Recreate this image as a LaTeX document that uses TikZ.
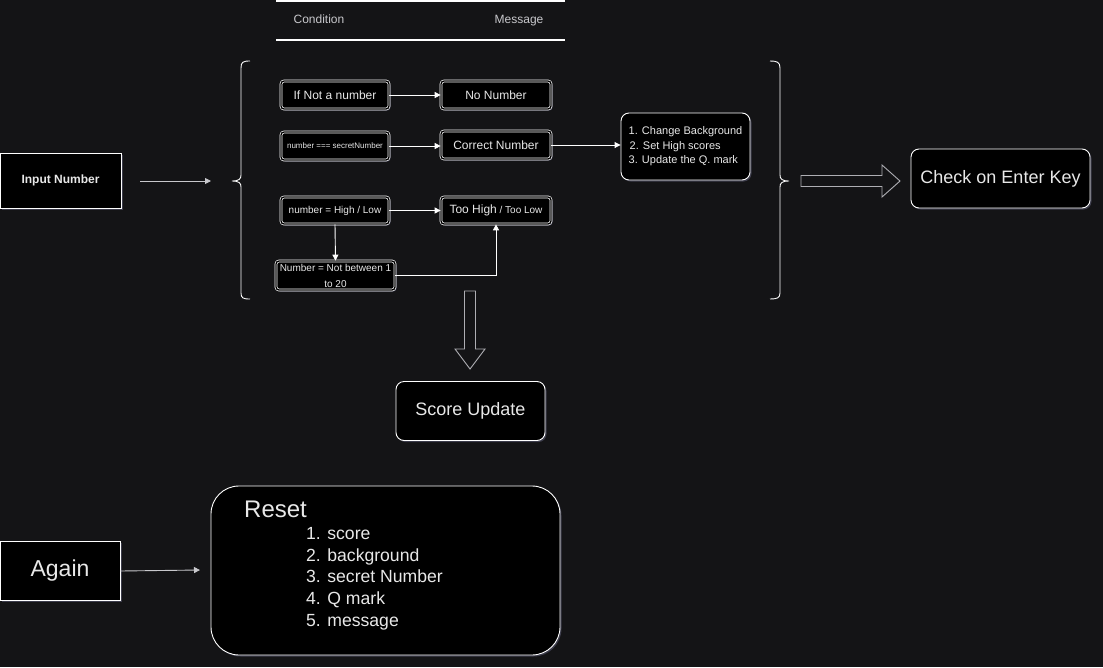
\documentclass[tikz,border=0pt]{standalone}
\usepackage{fontspec}
\setmainfont{Liberation Sans}
\usetikzlibrary{arrows.meta,shadows,calc}
\definecolor{bg}{RGB}{20,20,22}
\definecolor{txt}{RGB}{232,232,232}
\definecolor{lbl}{RGB}{200,200,204}
\definecolor{glow}{RGB}{110,110,140}
\definecolor{barrow}{RGB}{175,175,180}
\newcommand{\fs}[2]{\fontsize{#1}{#2}\selectfont}
\begin{document}
\begin{tikzpicture}[x=1pt,y=-1pt,
  box/.style={draw=white, fill=black, text=txt, inner sep=0pt, align=center, line width=0.9pt,
    drop shadow={shadow xshift=1.5pt, shadow yshift=-1.5pt, fill=glow, opacity=0.45}},
  rbox/.style={box, rounded corners=8pt},
  dbox/.style={box, rounded corners=3pt, double=black, double distance=1.3pt, line width=0.7pt},
  arr/.style={draw=white, line width=0.9pt, -{Triangle[width=6pt,length=6pt]}},
  brace/.style={draw=white, line width=0.9pt},
  blockarrow/.style={draw=barrow, fill=bg, line width=0.9pt, line join=miter},
  hdr/.style={text=lbl, font=\fs{12}{14}, inner sep=0pt, anchor=base}
]
\fill[bg] (0,0) rectangle (1103,667);
\useasboundingbox (0,0) rectangle (1103,667);

% header
\draw[white, line width=1.2pt] (276,1) -- (565,1);
\draw[white, line width=1.2pt] (276,40) -- (565,40);
\node[hdr] (cond) at (319,23.5) {Condition};
\node[hdr] (msg) at (519,23.5) {Message};

% braces
\draw[brace] (250,61) .. controls (243,61) and (241,62) .. (241,68) -- (241,175)
  .. controls (241,179) and (239,181) .. (232,181)
  .. controls (239,181) and (241,183) .. (241,187) -- (241,293)
  .. controls (241,298) and (243,299) .. (250,299);
\draw[brace] (770,61) .. controls (777,61) and (780,62) .. (780,68) -- (780,175)
  .. controls (780,179) and (782,181) .. (789,181)
  .. controls (782,181) and (780,183) .. (780,187) -- (780,293)
  .. controls (780,298) and (777,299) .. (770,299);

% left input
\node[box, minimum width=121pt, minimum height=55pt, font=\bfseries\fs{12}{14}] (inp) at (60.5,180.5) {Input Number};
\coordinate (inpA) at (140,181);
\coordinate (inpB) at (211,181);
\draw[arr, draw=lbl] (inpA) -- (inpB);

% conditions
\node[dbox, minimum width=108pt, minimum height=28pt, font=\fs{12}{14}] (nan) at (335,95) {If Not a number};
\node[dbox, minimum width=110pt, minimum height=28pt, font=\fs{12}{14}] (nonum) at (496,95) {No Number};
\node[dbox, minimum width=108pt, minimum height=28pt, font=\fs{8}{9}] (eq) at (335,146) {number === secretNumber};
\node[dbox, minimum width=110pt, minimum height=28pt, font=\fs{12}{14}] (corr) at (496,145) {Correct Number};
\node[dbox, minimum width=108pt, minimum height=27pt, font=\fs{10}{12}] (hl) at (335,210.5) {number = High / Low};
\node[dbox, minimum width=110pt, minimum height=27pt, font=\fs{10}{12}] (th) at (496,210.5) {{\fs{12}{14}Too High} / Too Low};
\node[dbox, minimum width=119pt, minimum height=29pt, font=\fs{10}{16}] (nb) at (335.5,275.5) {Number = Not between 1\\to 20};

\draw[arr] (nan) -- (nonum);
\draw[arr] (eq.east) -- (corr.west |- eq.east);
\draw[arr] (hl) -- (th);
\draw[arr] (hl.south) -- (nb.north);
\draw[arr] (nb.east) -| (th.south);

% list box
\node[rbox, minimum width=129pt, minimum height=67pt, font=\fs{11}{14.5}, align=left] (lst) at (685.5,146.5)
  {1. Change Background\\\hspace{1pt}2. Set High scores\\3. Update the Q. mark};
\draw[arr] (corr) -- (lst.west |- corr);

% block arrow right
\draw[blockarrow] (801,175.5) -- (882,175.5) -- (882,165) -- (900,181) -- (882,197) -- (882,186.5) -- (801,186.5) -- cycle;
\node[rbox, minimum width=179pt, minimum height=59pt, font=\fs{18}{21}] (chk) at (1000.5,178.5) {Check on Enter Key};

% block arrow down
\draw[blockarrow] (464.5,291) -- (475.5,291) -- (475.5,349) -- (485,349) -- (470,369) -- (455,349) -- (464.5,349) -- cycle;
\node[rbox, minimum width=149pt, minimum height=59pt, font=\fs{18}{21}] (score) at (470.5,411) {Score Update};

% again / reset
\node[box, minimum width=120pt, minimum height=59pt, font=\fs{23}{27}] (again) at (60,571) {Again};
\node[rbox, rounded corners=28pt, minimum width=349pt, minimum height=169pt] (rst) at (385.5,570.5) {};
\coordinate (rstA) at (200,570);
\draw[arr, draw=lbl] (again.east) -- (rstA);
\node[text=txt, font=\fs{24}{28}, anchor=west, inner sep=0pt] (rsttitle) at (244,509.5) {Reset};
\node[text=txt, font=\fs{17.6}{21.8}, anchor=north west, inner sep=0pt, align=left] (rstlist) at (306,527)
  {1. score\\2. background\\3. secret Number\\4. Q mark\\5. message};
\end{tikzpicture}
\end{document}
